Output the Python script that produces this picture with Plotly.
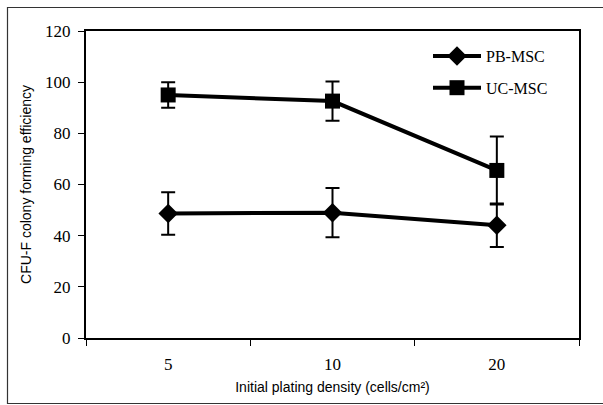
import plotly.graph_objects as go

categories = ["5", "10", "20"]
pb_values = [48.7, 49.0, 44.1]
pb_errors = [8.3, 9.6, 8.5]
uc_values = [95.0, 92.6, 65.5]
uc_errors = [5.0, 7.7, 13.3]
y_ticks = [0, 20, 40, 60, 80, 100, 120]

W, H = 603, 405
L, R, T, B = 86, 24, 31, 67
pw, ph = W - L - R, H - T - B

fig = go.Figure()
fig.add_trace(go.Scatter(
    x=categories, y=pb_values, name="PB-MSC", mode="lines+markers",
    line=dict(color="black", width=4),
    marker=dict(symbol="diamond", size=15, color="black"),
    error_y=dict(type="data", array=pb_errors, color="black", thickness=2, width=7),
    legendgroup="a",
))
fig.add_trace(go.Scatter(
    x=categories, y=uc_values, name="UC-MSC", mode="lines+markers",
    line=dict(color="black", width=4),
    marker=dict(symbol="square", size=15, color="black"),
    error_y=dict(type="data", array=uc_errors, color="black", thickness=2, width=7),
    legendgroup="b",
))

def px_x(px):
    return (px - L) / pw

def px_y(py):
    return (H - B - py) / ph

fig.add_shape(type="rect", xref="paper", yref="paper",
              x0=px_x(7.5), x1=px_x(610), y0=px_y(403.5), y1=px_y(7.5),
              line=dict(color="#333333", width=1.2), layer="below")

fig.update_layout(
    width=W, height=H,
    margin=dict(l=L, r=R, t=T, b=B, autoexpand=False),
    paper_bgcolor="white", plot_bgcolor="white",
    font=dict(family="Liberation Serif", size=17, color="black"),
    showlegend=True,
    legend=dict(x=px_x(428), y=px_y(39), xanchor="left", yanchor="top",
                font=dict(family="Liberation Serif", size=16),
                itemwidth=48, tracegroupgap=8, traceorder="grouped",
                bgcolor="rgba(0,0,0,0)"),
    xaxis=dict(type="category", categoryorder="array", categoryarray=categories,
               range=[-0.5, 2.5], tickson="boundaries", ticks="outside",
               ticklen=6, tickwidth=1, tickcolor="black",
               showline=True, linecolor="black", linewidth=2, mirror=True,
               showgrid=False, zeroline=False, automargin=False,
               ticklabelstandoff=10,
               title=dict(text="Initial plating density (cells/cm²)",
                          font=dict(family="Liberation Sans", size=14), standoff=9)),
    yaxis=dict(range=[0, 120], tickvals=y_ticks, ticks="outside",
               ticklen=6, tickwidth=1, tickcolor="black",
               showline=True, linecolor="black", linewidth=2, mirror=True,
               showgrid=False, zeroline=False, automargin=False,
               ticklabelstandoff=4,
               title=dict(text="CFU-F colony forming efficiency",
                          font=dict(family="Liberation Sans", size=14), standoff=10)),
)

fig.write_html("out.html", config={"displayModeBar": False},
               post_script="document.body.style.margin='0';document.body.style.overflow='hidden';")
